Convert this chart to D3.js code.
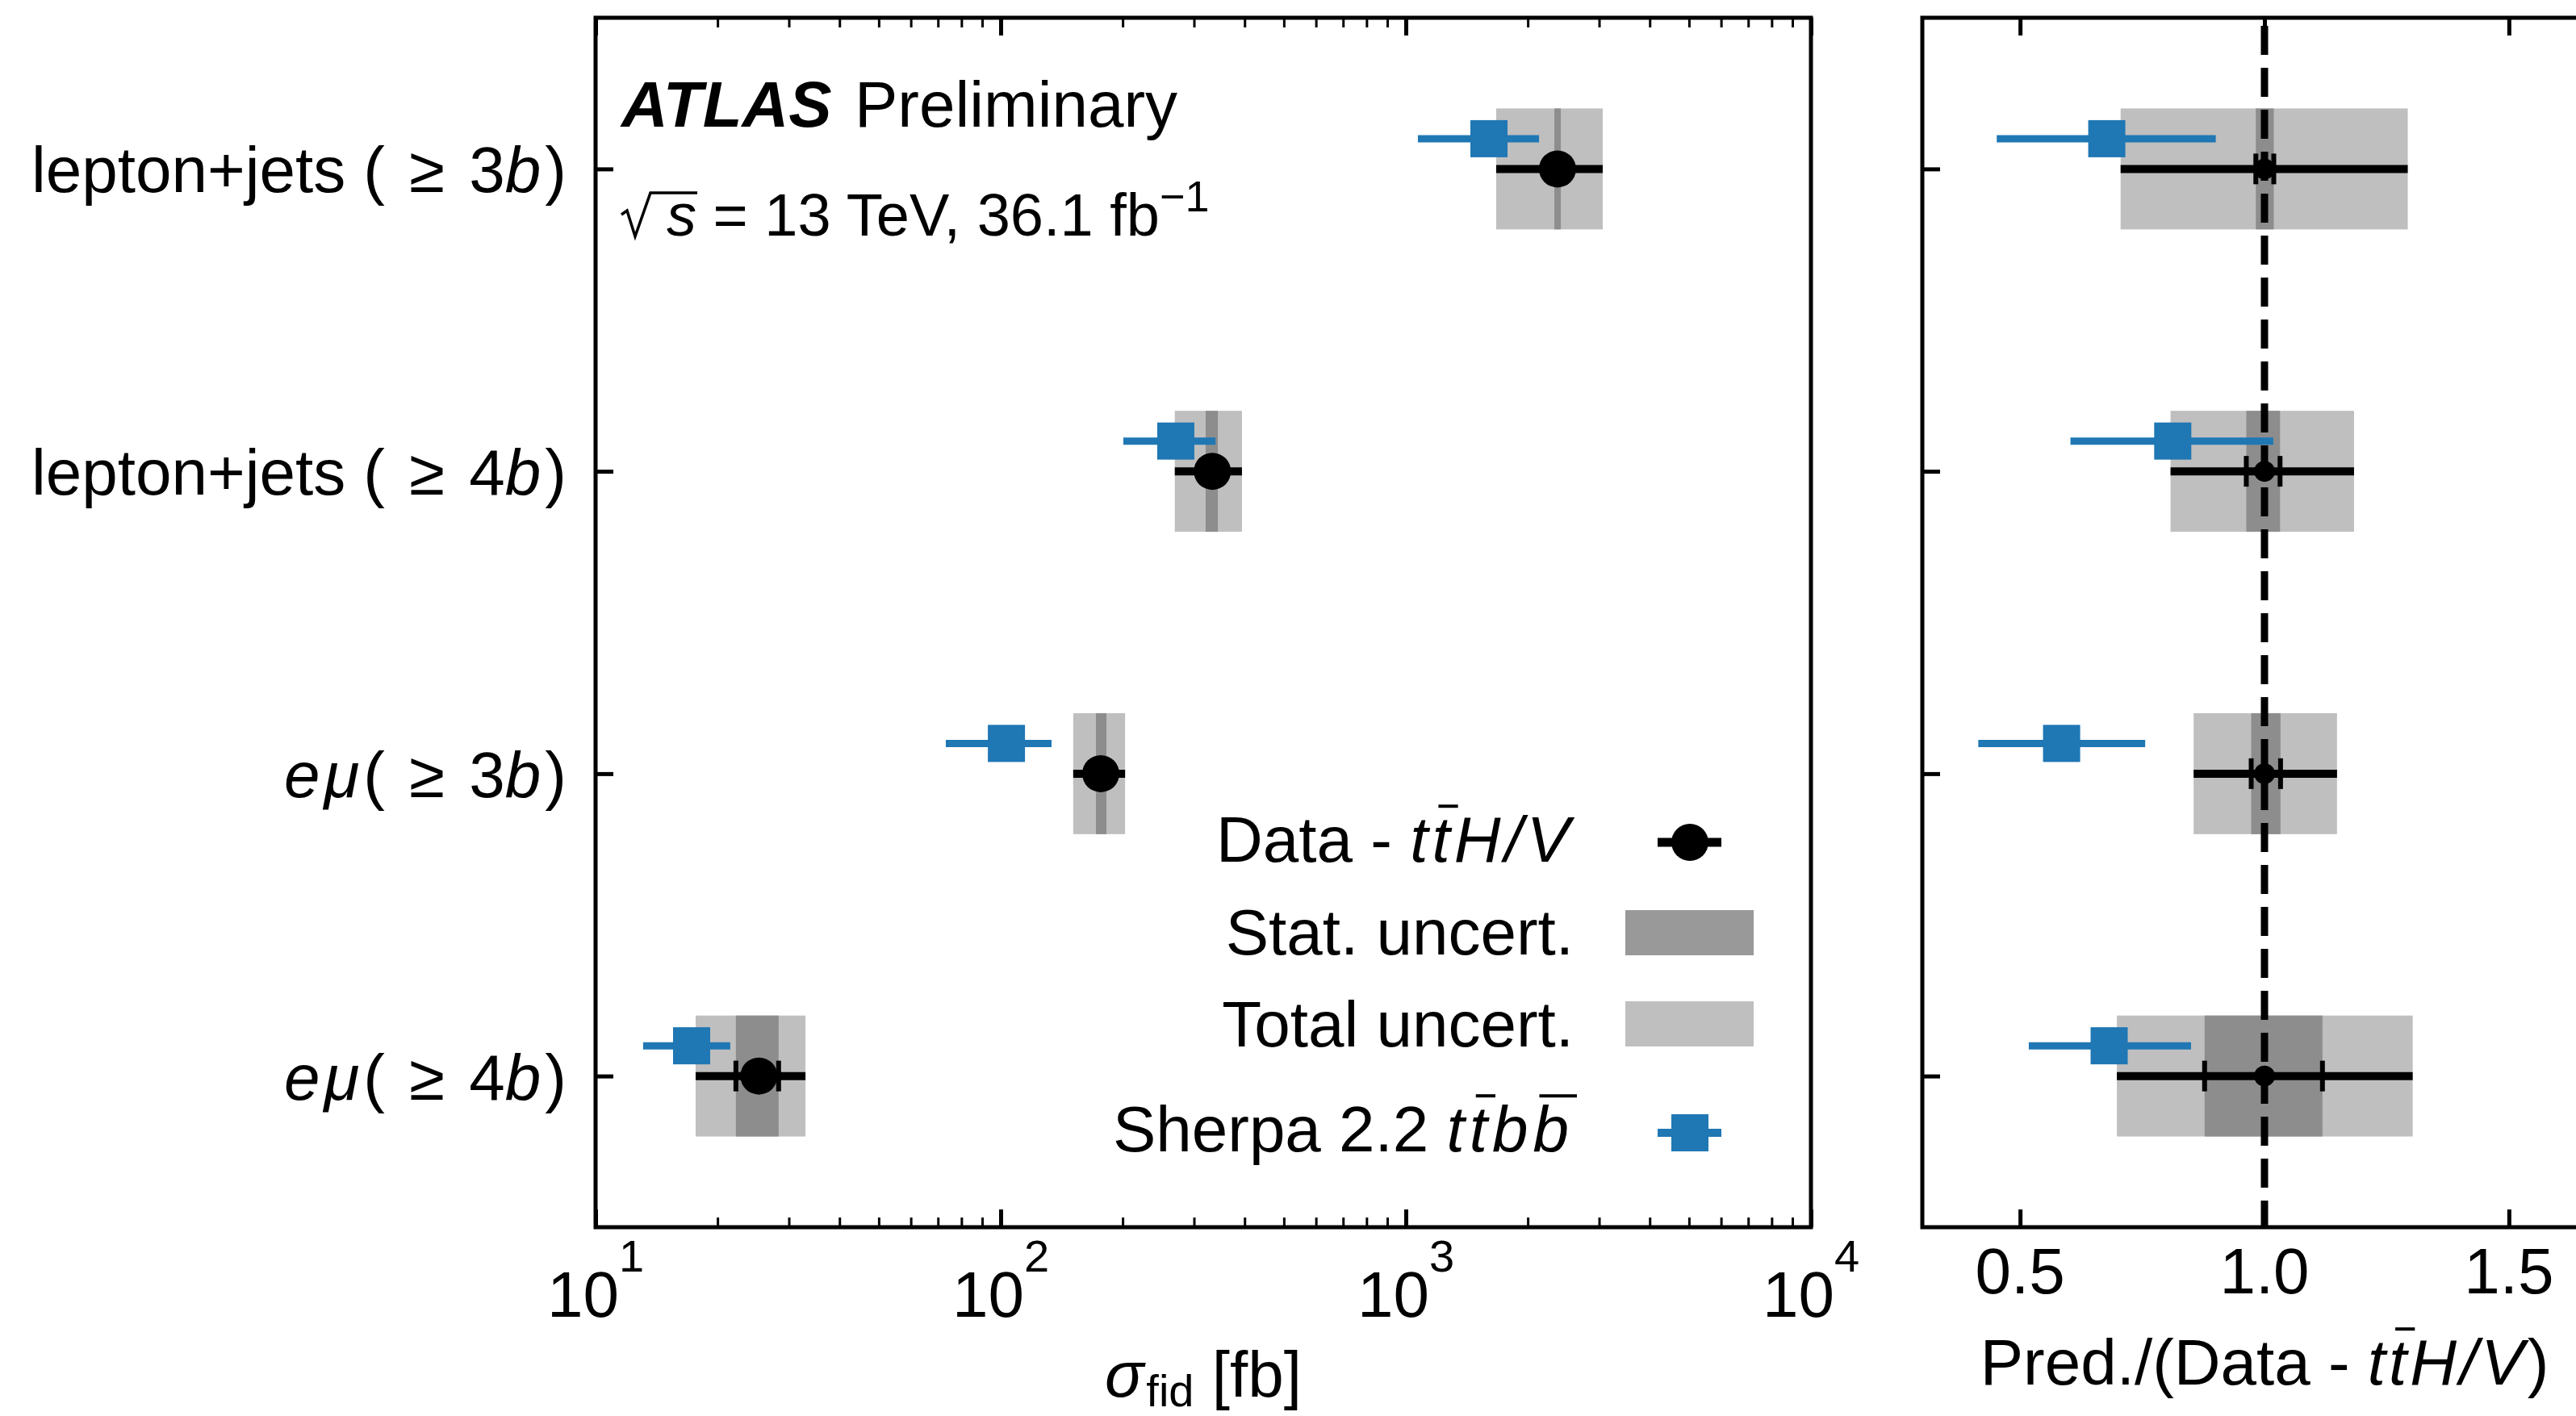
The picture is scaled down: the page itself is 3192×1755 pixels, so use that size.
<!DOCTYPE html>
<html>
<head>
<meta charset="utf-8">
<script src="https://cdn.jsdelivr.net/npm/d3@7"></script>
<style>
  body { margin: 0; background: #fff; }
  svg { display: block; font-family: 'Liberation Sans', Arial, sans-serif; }
</style>
</head>
<body>
<script>
(function(){

// DATA (fiducial cross-sections in fb)

    const categories = ['lj3b', 'lj4b', 'emu3b', 'emu4b'];

    const dataVal = [2368, 333, 176.6, 25.3];
    const statLo = [2326, 320.6, 171.8, 22.2];
    const statHi = [2413, 343.6, 182.4, 28.3];
    const totLo = [1671, 269, 151, 17.66];
    const totHi = [3062, 394, 202.8, 32.97];

    const sherpaVal = [1604, 270.5, 103.3, 17.26];
    const sherpaLo = [1071, 200.8, 73.2, 13.1];
    const sherpaHi = [2132, 339, 133.5, 21.5];

    const xTicksMain = [10, 100, 1000, 10000];
    const xTicksRatio = [0.5, 1.0, 1.5];

    const catLabels = [
        [{t: 'lepton+jets ('}, {t: ' ≥', dx: 8}, {t: ' 3', dx: 8}, {t: 'b', i: 1, ls: 5}, {t: ')'}],
        [{t: 'lepton+jets ('}, {t: ' ≥', dx: 8}, {t: ' 4', dx: 8}, {t: 'b', i: 1, ls: 5}, {t: ')'}],
        [{t: 'eμ', i: 1, ls: 5}, {t: '('}, {t: ' ≥', dx: 8}, {t: ' 3', dx: 8}, {t: 'b', i: 1, ls: 5}, {t: ')'}],
        [{t: 'eμ', i: 1, ls: 5}, {t: '('}, {t: ' ≥', dx: 8}, {t: ' 4', dx: 8}, {t: 'b', i: 1, ls: 5}, {t: ')'}]
    ];

    const legendLabels = [
        [{t: 'Data - '}, {t: 't', i: 1, ls: 5}, {t: 't', i: 1, ls: 5, bar: 1}, {t: 'H/V', i: 1, ls: 5}],
        [{t: 'Stat. uncert.'}],
        [{t: 'Total uncert.'}],
        [{t: 'Sherpa 2.2 '}, {t: 't', i: 1, ls: 6}, {t: 't', i: 1, ls: 6, bar: 1}, {t: 'b', i: 1, ls: 6}, {t: 'b', i: 1, ls: 6, bar: 1}]
    ];


// LAYOUT

    const width = 3192, height = 1755;
    const top = 22, bottom = 1521;
    const fs = 80;
    const blue = '#1f77b4', totGrey = '#bfbfbf', statGrey = '#8d8d8d';

    const x = d3.scaleLog().domain([10, 1e4]).range([738, 2244]);
    const xr = d3.scaleLinear().domain([0.3, 1.7]).range([2382, 3230]);
    const y = d3.scaleLinear().domain([-0.5, 3.5]).range([top, bottom]);

    const svg = d3.select('body')
        .append('svg')
        .attr('width', width)
        .attr('height', height);

    svg.append('rect')
        .attr('width', width)
        .attr('height', height)
        .attr('fill', '#fff');


// RICH TEXT (italic, sub/sup, bars)

function rich(g, parts, o){
    const txt = g.append('text')
        .attr('x', o.x)
        .attr('y', o.y)
        .attr('font-size', o.size)
        .attr('text-anchor', o.anchor || 'start')
        .attr('fill', '#000');

    let shift = 0;
    const spans = [];
    parts.forEach(function(p){
        const s = txt.append('tspan').text(p.t);
        const target = p.dy || 0;
        if (target !== shift){
            s.attr('dy', target - shift);
            shift = target;
        }
        if (p.dx) s.attr('dx', p.dx);
        if (p.ls) s.attr('letter-spacing', p.ls);
        if (p.fs) s.attr('font-size', p.fs);
        if (p.i) s.attr('font-style', 'italic');
        if (p.b) s.attr('font-weight', 'bold');
        spans.push([s, p]);
    });

    spans.forEach(function(sp){
        if (!sp[1].bar) return;
        const bb = sp[0].node().getBBox();
        const off = 0.1 * o.size;
        g.append('line')
            .attr('x1', bb.x + off)
            .attr('x2', bb.x + bb.width - (sp[1].ls || 0) + off + 2)
            .attr('y1', o.y - 0.86 * o.size)
            .attr('y2', o.y - 0.86 * o.size)
            .attr('stroke', '#000')
            .attr('stroke-width', 4);
    });
    return txt;
};


// POINTS

function drawBoxes(g, xs, rows){

    g.selectAll('.tot')
        .data(rows)
        .enter()
        .append('rect')
        .attr('class', 'tot')
        .attr('x', d => xs(d.tLo))
        .attr('width', d => xs(d.tHi) - xs(d.tLo))
        .attr('y', d => y(d.i - 0.2))
        .attr('height', d => y(d.i + 0.2) - y(d.i - 0.2))
        .attr('fill', totGrey);

    g.selectAll('.stat')
        .data(rows)
        .enter()
        .append('rect')
        .attr('class', 'stat')
        .attr('x', d => xs(d.sLo))
        .attr('width', d => xs(d.sHi) - xs(d.sLo))
        .attr('y', d => y(d.i - 0.2))
        .attr('height', d => y(d.i + 0.2) - y(d.i - 0.2))
        .attr('fill', statGrey);
};

function drawMarkers(g, xs, rows, r){

    g.selectAll('.totline')
        .data(rows)
        .enter()
        .append('line')
        .attr('x1', d => xs(d.tLo))
        .attr('x2', d => xs(d.tHi))
        .attr('y1', d => y(d.i))
        .attr('y2', d => y(d.i))
        .attr('stroke', '#000')
        .attr('stroke-width', 10);

    const caps = [];
    rows.forEach(function(d){
        caps.push({i: d.i, v: d.sLo});
        caps.push({i: d.i, v: d.sHi});
    });
    g.selectAll('.cap')
        .data(caps)
        .enter()
        .append('line')
        .attr('x1', d => xs(d.v))
        .attr('x2', d => xs(d.v))
        .attr('y1', d => y(d.i) - 19)
        .attr('y2', d => y(d.i) + 19)
        .attr('stroke', '#000')
        .attr('stroke-width', 6);

    g.selectAll('.dot')
        .data(rows)
        .enter()
        .append('circle')
        .attr('cx', d => xs(d.v))
        .attr('cy', d => y(d.i))
        .attr('r', r)
        .attr('fill', '#000');

    g.selectAll('.predline')
        .data(rows)
        .enter()
        .append('line')
        .attr('x1', d => xs(d.pLo))
        .attr('x2', d => xs(d.pHi))
        .attr('y1', d => y(d.i - 0.1))
        .attr('y2', d => y(d.i - 0.1))
        .attr('stroke', blue)
        .attr('stroke-width', 9);

    g.selectAll('.predsq')
        .data(rows)
        .enter()
        .append('rect')
        .attr('x', d => xs(d.p) - 23)
        .attr('y', d => y(d.i - 0.1) - 23)
        .attr('width', 46)
        .attr('height', 46)
        .attr('fill', blue);
};


// DATA ROWS

    const rows = categories.map(function(c, i){
        return {
            i: i, v: dataVal[i],
            sLo: statLo[i], sHi: statHi[i],
            tLo: totLo[i], tHi: totHi[i],
            p: sherpaVal[i], pLo: sherpaLo[i], pHi: sherpaHi[i]
        };
    });

    // ratio panel: everything divided by the measured value
    const ratioRows = rows.map(function(d){
        const n = d.v;
        return {
            i: d.i, v: 1,
            sLo: d.sLo / n, sHi: d.sHi / n,
            tLo: d.tLo / n, tHi: d.tHi / n,
            p: d.p / n, pLo: d.pLo / n, pHi: d.pHi / n
        };
    });


// MAIN PANEL

    const main = svg.append('g').attr('class', 'main');
    drawBoxes(main, x, rows);
    drawMarkers(main, x, rows, 23);

// RATIO PANEL

    const ratio = svg.append('g').attr('class', 'ratio');
    drawBoxes(ratio, xr, ratioRows);

    ratio.append('line')
        .attr('x1', xr(1))
        .attr('x2', xr(1))
        .attr('y1', top)
        .attr('y2', bottom)
        .attr('stroke', '#000')
        .attr('stroke-width', 9)
        .attr('stroke-dasharray', '36,16')
        .attr('stroke-dashoffset', -10);

    drawMarkers(ratio, xr, ratioRows, 13);


// AXES

function styleAxis(sel, w){
    sel.select('.domain').remove();
    sel.selectAll('line').attr('stroke', '#000').attr('stroke-width', w);
    sel.selectAll('text').remove();
};

    const minorTicks = x.ticks().filter(d => xTicksMain.indexOf(d) < 0);

    [[d3.axisBottom, bottom], [d3.axisTop, top]].forEach(function(a){
        svg.append('g')
            .attr('transform', 'translate(0,' + a[1] + ')')
            .call(a[0](x).tickValues(xTicksMain).tickSizeInner(-22).tickSizeOuter(0))
            .call(styleAxis, 5);
        svg.append('g')
            .attr('transform', 'translate(0,' + a[1] + ')')
            .call(a[0](x).tickValues(minorTicks).tickSizeInner(-12).tickSizeOuter(0))
            .call(styleAxis, 3);
        svg.append('g')
            .attr('transform', 'translate(0,' + a[1] + ')')
            .call(a[0](xr).tickValues(xTicksRatio).tickSizeInner(-22).tickSizeOuter(0))
            .call(styleAxis, 5);
    });

    [738, 2382].forEach(function(px){
        svg.append('g')
            .attr('transform', 'translate(' + px + ',0)')
            .call(d3.axisLeft(y).tickValues([0, 1, 2, 3]).tickSizeInner(-22).tickSizeOuter(0))
            .call(styleAxis, 5);
    });

    // frames
    svg.append('rect')
        .attr('x', x.range()[0]).attr('y', top)
        .attr('width', x.range()[1] - x.range()[0]).attr('height', bottom - top)
        .attr('fill', 'none').attr('stroke', '#000').attr('stroke-width', 5);
    svg.append('rect')
        .attr('x', xr.range()[0]).attr('y', top)
        .attr('width', xr.range()[1] - xr.range()[0]).attr('height', bottom - top)
        .attr('fill', 'none').attr('stroke', '#000').attr('stroke-width', 5);


// LABELS

    const labels = svg.append('g').attr('class', 'labels');

    catLabels.forEach(function(parts, i){
        rich(labels, parts, {x: 702, y: y(i) + 29, size: fs, anchor: 'end'});
    });

    xTicksMain.forEach(function(v){
        rich(labels, [{t: '10'}, {t: String(Math.round(Math.log10(v))), dy: -56, fs: 56}],
            {x: x(v), y: 1632, size: fs, anchor: 'middle'});
    });

    xTicksRatio.forEach(function(v){
        rich(labels, [{t: d3.format('.1f')(v)}], {x: xr(v), y: 1603, size: fs, anchor: 'middle'});
    });

    rich(labels, [{t: 'σ', i: 1, ls: 3}, {t: 'fid', dy: 12, fs: 56}, {t: ' [fb]'}],
        {x: (x.range()[0] + x.range()[1]) / 2, y: 1731, size: fs, anchor: 'middle'});

    rich(labels, [{t: 'Pred./(Data - '}, {t: 't', i: 1, ls: 4}, {t: 't', i: 1, ls: 4, bar: 1}, {t: 'H/V', i: 1, ls: 4}, {t: ')'}],
        {x: xr(1), y: 1716, size: fs, anchor: 'middle'});

    // ATLAS label
    rich(labels, [{t: 'ATLAS', i: 1, b: 1}], {x: 770, y: 157, size: fs});
    rich(labels, [{t: 'Preliminary'}], {x: 1059, y: 157, size: fs});

    labels.append('path')
        .attr('d', 'M770,266 L777,261 L787,293 L806,239 L864,239')
        .attr('fill', 'none')
        .attr('stroke', '#000')
        .attr('stroke-width', 3.5);
    rich(labels, [{t: 's', i: 1}, {t: ' = 13 TeV, 36.1 fb'}, {t: '−1', dy: -30, fs: 54}],
        {x: 826, y: 292, size: 74});


// LEGEND

    const legend = svg.append('g').attr('class', 'legend');
    const legBase = [1068, 1183, 1297, 1427];

    legendLabels.forEach(function(parts, i){
        rich(legend, parts, {x: 1950, y: legBase[i], size: fs, anchor: 'end'});
    });

    legend.append('line')
        .attr('x1', 2054).attr('x2', 2133).attr('y1', 1044).attr('y2', 1044)
        .attr('stroke', '#000').attr('stroke-width', 11);
    legend.append('circle')
        .attr('cx', 2094).attr('cy', 1044).attr('r', 23).attr('fill', '#000');

    legend.append('rect')
        .attr('x', 2014).attr('y', 1128).attr('width', 159).attr('height', 56)
        .attr('fill', '#999999');
    legend.append('rect')
        .attr('x', 2014).attr('y', 1241).attr('width', 159).attr('height', 56)
        .attr('fill', totGrey);

    legend.append('line')
        .attr('x1', 2054).attr('x2', 2133).attr('y1', 1404).attr('y2', 1404)
        .attr('stroke', blue).attr('stroke-width', 10);
    legend.append('rect')
        .attr('x', 2071).attr('y', 1381).attr('width', 46).attr('height', 46)
        .attr('fill', blue);

})();
</script>
</body>
</html>
